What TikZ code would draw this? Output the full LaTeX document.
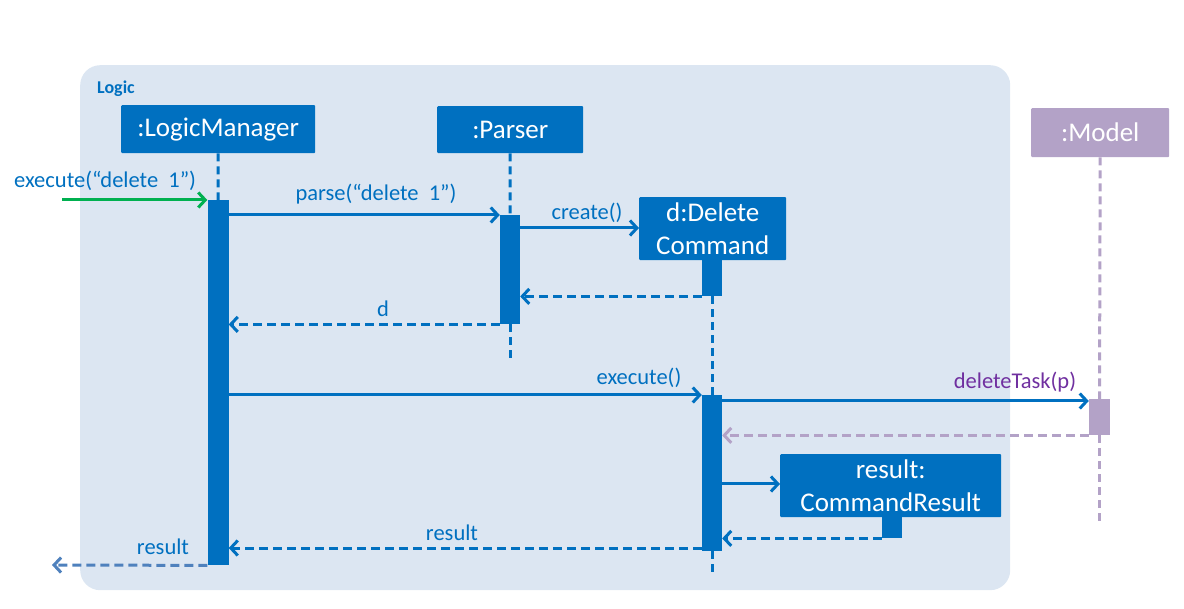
\documentclass[tikz,border=0pt]{standalone}
\usepackage{fontspec}
\setmainfont{Carlito}
\usetikzlibrary{arrows.meta}
\definecolor{mblue}{HTML}{0070C0}
\definecolor{bgblue}{HTML}{DCE6F2}
\definecolor{mpurple}{HTML}{B3A2C7}
\definecolor{tpurple}{HTML}{7030A0}
\definecolor{mgreen}{HTML}{00B050}
\definecolor{lblue}{HTML}{4F81BD}
\tikzset{
  obj/.style={fill=mblue, text=white, inner sep=0pt, font=\fontsize{27}{32}\selectfont, rounded corners=1pt},
  act/.style={fill=mblue, inner sep=0pt, minimum width=21pt},
  life/.style={mblue, line width=3pt, dash pattern=on 8pt off 5pt},
  msg/.style={mblue, line width=3pt, -{Straight Barb[length=7pt,width=15pt,line width=3pt]}},
  ret/.style={mblue, line width=3pt, dash pattern=on 9pt off 5pt, -{Straight Barb[length=7pt,width=15pt,line width=3pt]}},
  lbl/.style={text=mblue, inner sep=0pt, font=\fontsize{22.5}{26}\selectfont}
}
\begin{document}
\begin{tikzpicture}[x=1pt,y=-1pt]
\useasboundingbox (0,0) rectangle (1184,609);
% frame
\node[fill=bgblue, rounded corners=20pt, minimum width=930pt, minimum height=525pt, inner sep=0pt, anchor=north west] (frame) at (80,65) {};
\node[text=mblue, font=\fontsize{18}{20}\selectfont\bfseries, anchor=west, inner sep=0pt] (logic) at (97,89) {Logic};
% objects
\node[obj, minimum width=194pt, minimum height=48pt, anchor=north west] (lm) at (121,105) {:LogicManager};
\node[obj, minimum width=146pt, minimum height=47pt, anchor=north west] (ps) at (437,106) {:Parser};
\node[obj, minimum width=147pt, minimum height=63pt, anchor=north west, align=center, font=\fontsize{27}{33}\selectfont] (dc) at (639,197) {d:Delete\\Command};
\node[obj, fill=mpurple, minimum width=138pt, minimum height=49pt, anchor=north west] (md) at (1031,108) {:Model};
\node[obj, minimum width=221pt, minimum height=63pt, anchor=north west, align=center, font=\fontsize{27}{33}\selectfont] (cr) at (780,454) {result:\\CommandResult};
% activations
\node[act, minimum height=365pt, anchor=north] (lmA) at (218,200) {};
\node[act, minimum height=109pt, minimum width=20pt, anchor=north] (psA) at (510,215) {};
\node[act, minimum height=36pt, minimum width=20pt, anchor=north] (dcA1) at (712,260) {};
\node[act, minimum height=156pt, minimum width=20pt, anchor=north] (dcA2) at (712,395) {};
\node[act, fill=mpurple, minimum height=36pt, anchor=north] (mdA) at (1099.5,399) {};
\node[act, minimum height=21pt, minimum width=20pt, anchor=north] (crA) at (892,517) {};
% lifelines
\draw[life] (lm.south) -- (lmA.north);
\draw[life] (ps.south) -- (psA.north);
\draw[life] (psA.south) -- (510,363) coordinate (psEnd);
\draw[life] (dcA1.south) -- (dcA2.north);
\draw[life] (dcA2.south) -- (712,575) coordinate (dcEnd);
\draw[life, mpurple] (md.south) -- (mdA.north);
\draw[life, mpurple] (mdA.south) -- (1099.5,523) coordinate (mdEnd);
% messages
\coordinate (inStart) at (62,200);
\draw[msg, mgreen] (inStart) -- (lmA.north west);
\node[lbl, anchor=base west] (l1) at (14,188) {execute(“delete\ \ 1”)};
\draw[msg] (lmA.east |- 0,215) -- (psA.north west);
\node[lbl, anchor=base] (l2) at (376,201) {parse(“delete\ \ 1”)};
\draw[msg] (psA.east |- 0,228) -- (dc.west |- 0,228);
\node[lbl, anchor=base] (l3) at (587,220) {create()};
\draw[ret] (dcA1.south west) -- (psA.east |- dcA1.south);
\draw[ret] (psA.south west) -- (lmA.east |- psA.south);
\node[lbl, anchor=base] (l4) at (383,317) {d};
\draw[msg] (lmA.east |- 0,395) -- (dcA2.north west);
\node[lbl, anchor=base] (l5) at (639,385) {execute()};
\draw[msg] (dcA2.east |- 0,401) -- (mdA.west |- 0,401);
\node[lbl, text=tpurple, anchor=base] (l6) at (1015,389) {deleteTask(p)};
\draw[ret, mpurple] (mdA.south west) -- (dcA2.east |- mdA.south);
\draw[msg] (dcA2.east |- 0,484) -- (cr.west |- 0,484);
\draw[ret] (crA.south west) -- (dcA2.east |- crA.south);
\draw[ret] (dcA2.west |- 0,548) -- (lmA.east |- 0,548);
\node[lbl, anchor=base] (l7) at (452,540) {result};
\coordinate (outEnd) at (52,565);
\draw[ret, lblue] (lmA.south west) -- (outEnd);
\node[lbl, anchor=base] (l8) at (163,554) {result};
\end{tikzpicture}
\end{document}
